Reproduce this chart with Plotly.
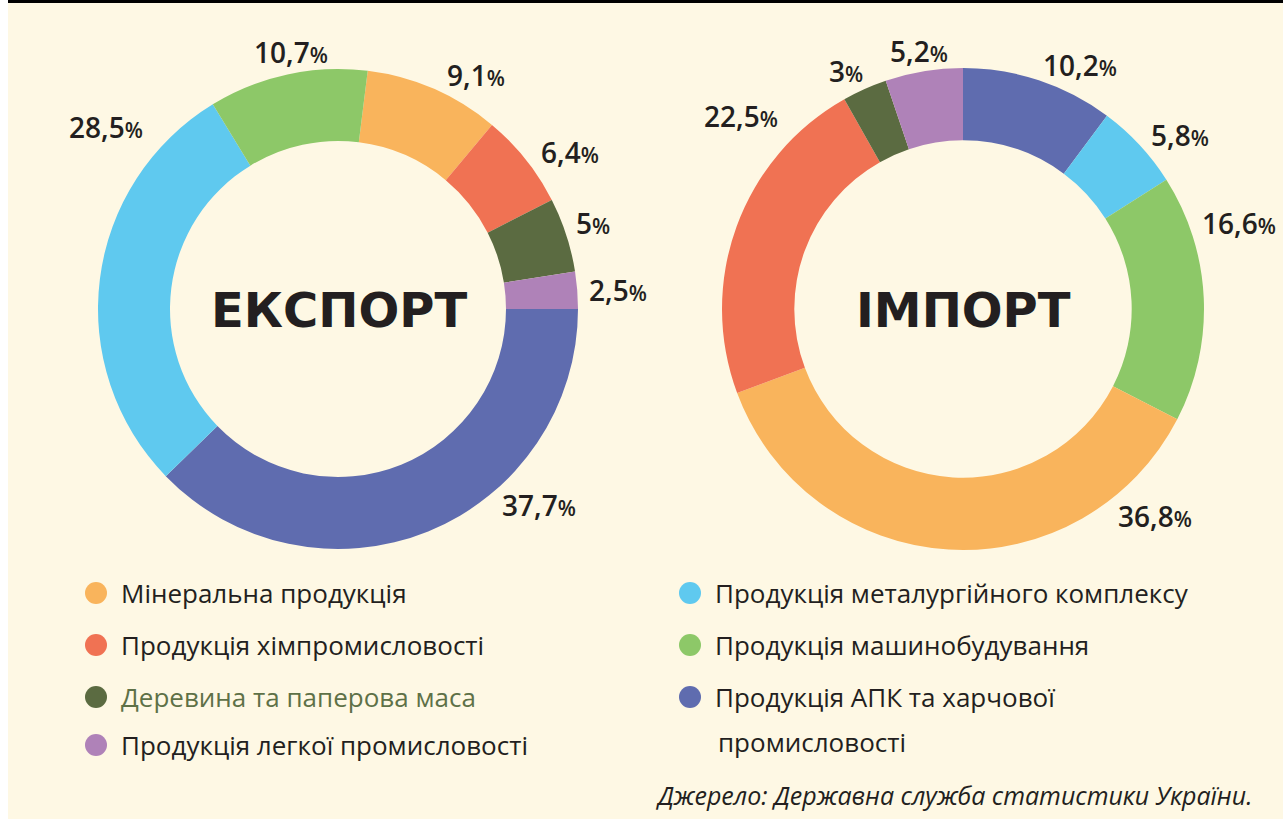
import plotly.graph_objects as go

W, H = 1283, 819

categories = [
    "Мінеральна продукція",
    "Продукція хімпромисловості",
    "Деревина та паперова маса",
    "Продукція легкої промисловості",
    "Продукція металургійного комплексу",
    "Продукція машинобудування",
    "Продукція АПК та харчової промисловості",
]
colors = {
    "Мінеральна продукція": "#F9B45C",
    "Продукція хімпромисловості": "#F07253",
    "Деревина та паперова маса": "#5B6B41",
    "Продукція легкої промисловості": "#AF82B8",
    "Продукція металургійного комплексу": "#5FC9EF",
    "Продукція машинобудування": "#8DC868",
    "Продукція АПК та харчової промисловості": "#5F6CAF",
}

export_labels = [
    "Мінеральна продукція",
    "Продукція хімпромисловості",
    "Деревина та паперова маса",
    "Продукція легкої промисловості",
    "Продукція АПК та харчової промисловості",
    "Продукція металургійного комплексу",
    "Продукція машинобудування",
]
export_values = [9.1, 6.4, 5.0, 2.5, 37.7, 28.5, 10.7]

import_labels = [
    "Продукція АПК та харчової промисловості",
    "Продукція металургійного комплексу",
    "Продукція машинобудування",
    "Мінеральна продукція",
    "Продукція хімпромисловості",
    "Деревина та паперова маса",
    "Продукція легкої промисловості",
]
import_values = [10.2, 5.8, 16.6, 36.8, 22.5, 3.0, 5.2]

# label placement (pixels) for each slice's percentage text
export_label_pos = [(476, 75), (570, 152), (593, 223), (618, 290), (539, 505), (106, 127), (291, 52)]
import_label_pos = [(1080, 65), (1180, 135), (1239, 223), (1155, 516), (741, 116), (846, 71), (919, 51)]

BG = "#FEF8E4"
TXT = "#231F20"


def px(x, y):
    return x / W, 1 - y / H


def dom(cx, cy, r):
    return dict(x=[(cx - r) / W, (cx + r) / W], y=[1 - (cy + r) / H, 1 - (cy - r) / H])


fig = go.Figure()

# export starts so that the first four slices end exactly at 3 o'clock
exp_rot = 90 - 360 * sum(export_values[:4]) / sum(export_values)

fig.add_trace(go.Pie(
    labels=export_labels, values=export_values, sort=False, direction="clockwise",
    rotation=exp_rot, hole=0.70, textinfo="none", hoverinfo="label+value",
    marker=dict(colors=[colors[l] for l in export_labels], line=dict(width=0)),
    domain=dom(338, 309, 240), showlegend=False,
))
fig.add_trace(go.Pie(
    labels=import_labels, values=import_values, sort=False, direction="clockwise",
    rotation=0, hole=0.70, textinfo="none", hoverinfo="label+value",
    marker=dict(colors=[colors[l] for l in import_labels], line=dict(width=0)),
    domain=dom(963, 309, 241), showlegend=False,
))


def fmt(v):
    s = ("%g" % v).replace(".", ",")
    return s + "<span style='font-size:21px'>%</span>"


ann = []
for v, (x, y) in list(zip(export_values, export_label_pos)) + list(zip(import_values, import_label_pos)):
    ax, ay = px(x, y)
    ann.append(dict(x=ax, y=ay, xref="paper", yref="paper", text=fmt(v), showarrow=False,
                    xanchor="center", yanchor="middle",
                    font=dict(family="Open Sans", size=28, color=TXT, weight=600)))

for t, cx in [("ЕКСПОРТ", 339), ("ІМПОРТ", 963)]:
    ax, ay = px(cx, 310)
    ann.append(dict(x=ax, y=ay, xref="paper", yref="paper", text=t, showarrow=False,
                    xanchor="center", yanchor="middle",
                    font=dict(family="DejaVu Sans", size=48, color=TXT, weight="bold")))

# custom two-column legend
legend_layout = [
    ("Мінеральна продукція", 96, 593, "Мінеральна продукція", TXT),
    ("Продукція хімпромисловості", 96, 645, "Продукція хімпромисловості", TXT),
    ("Деревина та паперова маса", 96, 697, "Деревина та паперова маса", "#5E7147"),
    ("Продукція легкої промисловості", 96, 745, "Продукція легкої промисловості", TXT),
    ("Продукція металургійного комплексу", 690, 593, "Продукція металургійного комплексу", TXT),
    ("Продукція машинобудування", 690, 645, "Продукція машинобудування", TXT),
    ("Продукція АПК та харчової промисловості", 690, 697, "Продукція АПК та харчової", TXT),
]
shapes = [
    dict(type="rect", xref="paper", yref="paper", x0=0, x1=1, y0=1 - 3 / H, y1=1,
         fillcolor="#000000", line=dict(width=0), layer="above"),
    dict(type="rect", xref="paper", yref="paper", x0=0, x1=8 / W, y0=0, y1=1,
         fillcolor="#FFFFFF", line=dict(width=0), layer="above"),
]
for cat, cx, cy, label, col in legend_layout:
    ax, ay = px(cx, cy)
    shapes.append(dict(type="circle", xref="paper", yref="paper", xsizemode="pixel", ysizemode="pixel",
                       xanchor=ax, yanchor=ay, x0=-11, x1=11, y0=-11, y1=11,
                       fillcolor=colors[cat], line=dict(width=0)))
    tx, ty = px(cx + 23, cy)
    ann.append(dict(x=tx, y=ty, xref="paper", yref="paper", text=label, showarrow=False,
                    xanchor="left", yanchor="middle",
                    font=dict(family="Open Sans", size=26, color=col, weight=500)))
tx, ty = px(716, 742)
ann.append(dict(x=tx, y=ty, xref="paper", yref="paper", text="промисловості", showarrow=False,
                xanchor="left", yanchor="middle",
                font=dict(family="Open Sans", size=26, color=TXT, weight=500)))

tx, ty = px(1254, 795)
ann.append(dict(x=tx, y=ty, xref="paper", yref="paper",
                text="<i>Джерело: Державна служба статистики України.</i>", showarrow=False,
                xanchor="right", yanchor="middle", font=dict(family="Open Sans", size=25, color=TXT)))

fig.update_layout(
    width=W, height=H, margin=dict(l=0, r=0, t=0, b=0),
    paper_bgcolor=BG, plot_bgcolor=BG,
    annotations=ann, shapes=shapes,
)

fig.write_html("out.html", config={"displayModeBar": False},
               post_script="document.body.style.margin='0px';")
